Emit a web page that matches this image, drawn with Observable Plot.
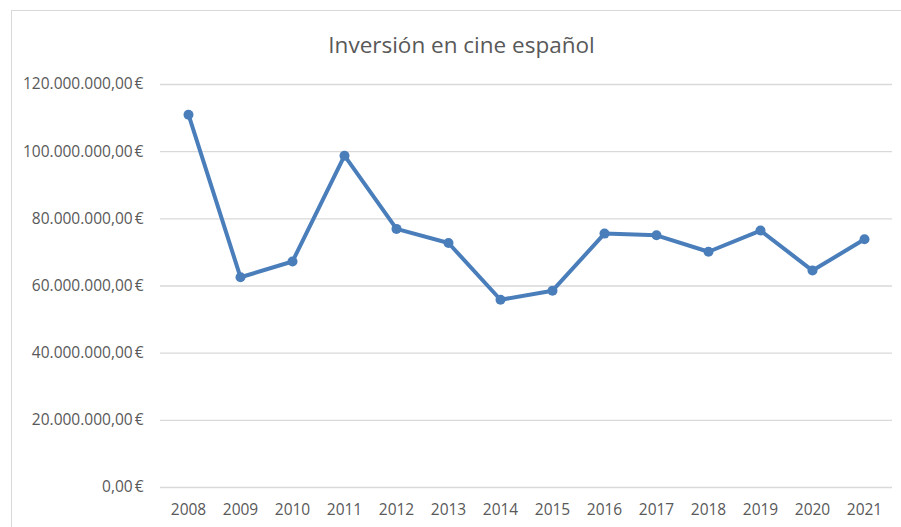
<!DOCTYPE html>
<html>
<head>
<meta charset="utf-8">
<script src="https://cdn.jsdelivr.net/npm/d3@7"></script>
<script src="https://cdn.jsdelivr.net/npm/@observablehq/plot@0.6"></script>
<style>
  html, body { margin: 0; padding: 0; background: #fff; }
  #wrap { position: relative; width: 901px; height: 527px; overflow: hidden; }
  #frame { position: absolute; left: 11px; top: 10px; width: 1000px; height: 1000px; border: 1.5px solid #d9d9d9; box-sizing: border-box; }
  #chart { position: absolute; left: 0; top: 0; }
</style>
</head>
<body>
<div id="wrap"><div id="frame"></div><div id="chart"></div></div>
<script>
const title = "Inversión en cine español";
const years = ["2008","2009","2010","2011","2012","2013","2014","2015","2016","2017","2018","2019","2020","2021"];
const investment = [111.0, 62.6, 67.3, 98.8, 77.0, 72.8, 55.9, 58.6, 75.6, 75.1, 70.2, 76.5, 64.6, 73.9].map(v => v * 1e6);
const yTicks = [0, 20e6, 40e6, 60e6, 80e6, 100e6, 120e6];

const data = years.map((y, i) => ({year: y, value: investment[i]}));

const fmt = d => {
  const s = d3.format(",.2f")(d).replace(/,/g, "X").replace(/\./g, ",").replace(/X/g, ".");
  return s + "\u202f€";
};

const chart = Plot.plot({
  width: 901,
  height: 527,
  marginTop: 84,
  marginBottom: 40,
  marginLeft: 160,
  marginRight: 9,
  style: {fontFamily: "'Open Sans', sans-serif", color: "#595959", background: "transparent"},
  x: {type: "point", domain: years, padding: 0.5, align: 0.5},
  y: {domain: [0, 120e6]},
  marks: [
    Plot.gridY(yTicks, {stroke: "#d9d9d9", strokeOpacity: 1, strokeWidth: 1.3}),
    Plot.axisX({tickSize: 0, tickPadding: 16, fontSize: 15.5, label: null, fill: "#595959"}),
    Plot.axisY(yTicks, {tickSize: 0, tickPadding: 17, fontSize: 15.5, label: null, tickFormat: fmt, fill: "#595959"}),
    Plot.line(data, {x: "year", y: "value", stroke: "#4a7ebb", strokeWidth: 4, strokeLinejoin: "round", strokeLinecap: "round"}),
    Plot.dot(data, {x: "year", y: "value", fill: "#4a7ebb", r: 5}),
    Plot.text([title], {frameAnchor: "top", dy: -39, dx: -65, text: d => d, fontSize: 22.5, fill: "#595959", lineAnchor: "middle"})
  ]
});
document.getElementById("chart").appendChild(chart);
</script>
</body>
</html>
